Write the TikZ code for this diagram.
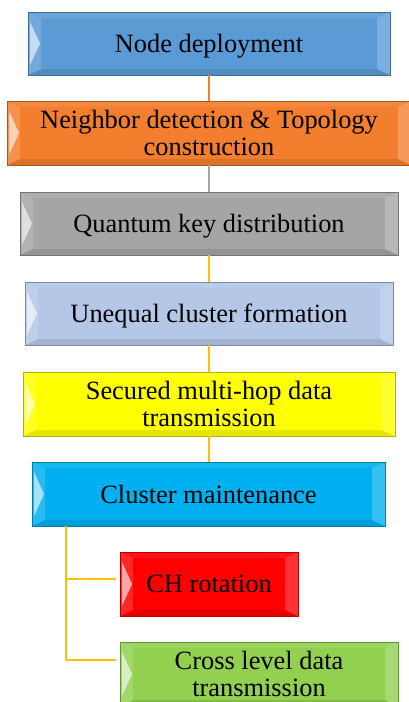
\documentclass[tikz,border=0pt]{standalone}
\usepackage{fontspec}
\setmainfont{Liberation Serif}
\definecolor{cBlue}{RGB}{91,155,213}
\definecolor{cOrange}{RGB}{242,126,46}
\definecolor{cGrey}{RGB}{165,165,165}
\definecolor{cLightBlue}{RGB}{180,199,231}
\definecolor{cYellow}{RGB}{255,255,0}
\definecolor{cCyan}{RGB}{0,176,240}
\definecolor{cRed}{RGB}{255,0,0}
\definecolor{cGreen}{RGB}{146,208,80}
\definecolor{cGold}{RGB}{255,192,0}
\tikzset{
  bevelbox/.style={
    rectangle, inner sep=0pt, align=center, text depth=0pt,
    font=\fontsize{26.4}{27}\selectfont,
    fill=#1, draw=#1!70!black, line width=0.8pt,
    path picture={
      % top facet
      \fill[#1!92!white]
        (path picture bounding box.north west) -- (path picture bounding box.north east)
        -- ([shift={(-13pt,-6pt)}]path picture bounding box.north east)
        -- ([shift={(13pt,-6pt)}]path picture bounding box.north west) -- cycle;
      % bottom facet
      \fill[#1!90!black]
        (path picture bounding box.south west) -- (path picture bounding box.south east)
        -- ([shift={(-13pt,6pt)}]path picture bounding box.south east)
        -- ([shift={(13pt,6pt)}]path picture bounding box.south west) -- cycle;
      % left facet
      \fill[#1!85!white]
        (path picture bounding box.south west) -- (path picture bounding box.north west)
        -- ([shift={(13pt,-6pt)}]path picture bounding box.north west)
        -- ([shift={(13pt,6pt)}]path picture bounding box.south west) -- cycle;
      % left highlight
      \fill[#1!35!white]
        ([shift={(2pt,-10pt)}]path picture bounding box.north west)
        -- ([shift={(12pt,0pt)}]path picture bounding box.west)
        -- ([shift={(2pt,10pt)}]path picture bounding box.south west) -- cycle;
      % right facet
      \fill[#1!80!white]
        (path picture bounding box.south east) -- (path picture bounding box.north east)
        -- ([shift={(-13pt,-6pt)}]path picture bounding box.north east)
        -- ([shift={(-13pt,6pt)}]path picture bounding box.south east) -- cycle;
    }
  },
  link/.style={line width=2pt, draw=#1}
}
\begin{document}
\begin{tikzpicture}[x=1pt,y=-1pt]
\clip (0,0) rectangle (409,702);
\fill[white] (0,0) rectangle (409,702);

\node[bevelbox=cBlue, minimum width=362pt, minimum height=63pt] (deploy) at (209,43.5) {Node deployment};
\node[bevelbox=cOrange, minimum width=404pt, minimum height=64pt] (neigh) at (209,133)
  {Neighbor detection \& Topology\\construction};
\node[bevelbox=cGrey, minimum width=378pt, minimum height=63pt] (qkd) at (209,223.5) {Quantum key distribution};
\node[bevelbox=cLightBlue, minimum width=368pt, minimum height=63pt] (unequal) at (209,313.5) {Unequal cluster formation};
\node[bevelbox=cYellow, minimum width=372pt, minimum height=64pt] (secured) at (209,404)
  {Secured multi-hop data\\transmission};
\node[bevelbox=cCyan, minimum width=353pt, minimum height=64pt] (maint) at (208.5,494) {Cluster maintenance};
\node[bevelbox=cRed, minimum width=178pt, minimum height=64pt] (chrot) at (209,584) {CH rotation};
\node[bevelbox=cGreen, minimum width=278pt, minimum height=64pt] (cross) at (259,674)
  {Cross level data\\transmission};

% main chain
\draw[link=cOrange] (deploy.south) -- (neigh.north);
\draw[link=cGrey] (neigh.south) -- (qkd.north);
\draw[link=cGold] (qkd.south) -- (unequal.north);
\draw[link=cGold] (unequal.south) -- (secured.north);
\draw[link=cGold] (secured.south -| maint.north) -- (maint.north);

% branch under cluster maintenance
\coordinate (trunk) at ([xshift=34pt]maint.south west);
\coordinate (chin) at ([xshift=-4pt,yshift=5pt]chrot.west);
\coordinate (crossin) at ([xshift=-4pt,yshift=14pt]cross.west);
\draw[link=cGold] (trunk) |- (crossin);
\draw[link=cGold] (trunk |- chin) -- (chin);
\end{tikzpicture}
\end{document}
